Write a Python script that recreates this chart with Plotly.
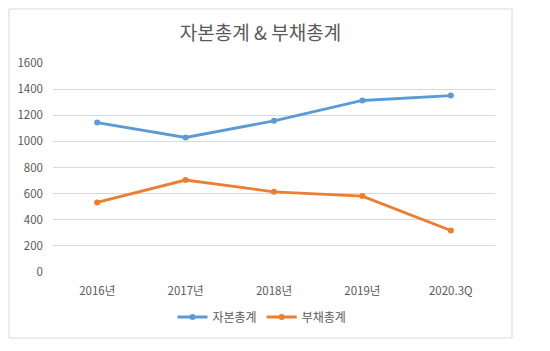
import plotly.graph_objects as go

categories = ["2016년", "2017년", "2018년", "2019년", "2020.3Q"]
equity_total = [1144, 1030, 1157, 1313, 1351]
debt_total = [533, 704, 614, 581, 318]
y_ticks = [0, 200, 400, 600, 800, 1000, 1200, 1400, 1600]

FONT = "Noto Sans CJK KR, Malgun Gothic, sans-serif"
GREY = "#595959"

fig = go.Figure()
fig.add_trace(go.Scatter(x=categories, y=equity_total, name="자본총계", mode="lines+markers",
                         line=dict(color="#5b9bd5", width=2.8), marker=dict(size=6, color="#5b9bd5")))
fig.add_trace(go.Scatter(x=categories, y=debt_total, name="부채총계", mode="lines+markers",
                         line=dict(color="#ed7d31", width=2.8), marker=dict(size=6, color="#ed7d31")))

fig.update_layout(
    width=550, height=351,
    margin=dict(l=53, r=55, t=63, b=79),
    paper_bgcolor="white", plot_bgcolor="white",
    font=dict(family=FONT, color=GREY, size=11),
    title=dict(text="자본총계 & 부채총계", x=260.5/550, xanchor="center", y=1 - 33/351, yanchor="middle",
               font=dict(size=19, color=GREY, family=FONT)),
    showlegend=True,
    legend=dict(orientation="h", x=(262-53)/442, xanchor="center", y=-(317-272)/209, yanchor="middle",
                font=dict(size=12, color=GREY), itemwidth=30, tracegroupgap=0),
    xaxis=dict(type="category", range=[-0.5, 4.5], showgrid=False, showline=False, zeroline=False,
               ticks="", ticklabelstandoff=10, tickfont=dict(size=11.5, color=GREY)),
    yaxis=dict(range=[0, 1600], tickvals=y_ticks, showgrid=True, gridcolor="#d9d9d9", gridwidth=1,
               zeroline=False, showline=False, ticks="", ticklabelstandoff=9,
               tickfont=dict(size=11.5, color=GREY)),
    shapes=[dict(type="rect", xref="paper", yref="paper",
                 x0=(9-53)/442, x1=(512-53)/442, y0=(272-338)/209, y1=(272-9)/209,
                 line=dict(color="#d9d9d9", width=1), fillcolor="rgba(0,0,0,0)", layer="below")],
)

fig.write_html("out.html")
